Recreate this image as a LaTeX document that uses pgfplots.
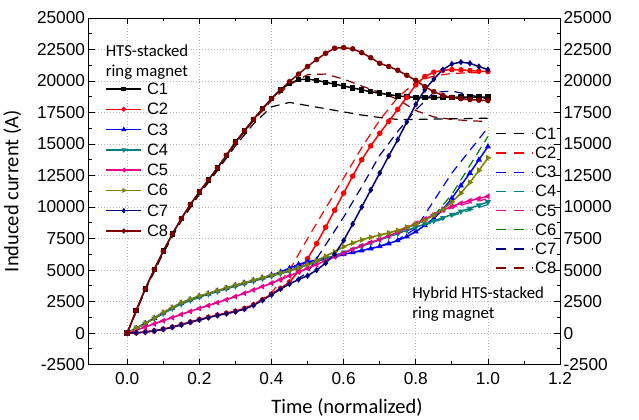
\documentclass[border=0pt]{standalone}
\usepackage{fontspec}
\setmainfont{Liberation Sans}
\newfontfamily\calfont{Carlito}
\usepackage{pgfplots}
\usepackage{pgfplotstable}
\pgfplotsset{compat=1.18}
\definecolor{cteal}{RGB}{0,128,128}
\definecolor{colive}{RGB}{128,128,0}
\definecolor{cnavy}{RGB}{0,0,128}
\definecolor{cmaroon}{RGB}{128,0,0}
\definecolor{cgreen}{RGB}{0,128,0}

\pgfplotstableread{
x C1 C2 C3 C4 C5 C6 C7 C8
0 0 0 0 0 0 0 0 0
0.025 1800 20 380 370 230 400 20 1800
0.05 3500 90 780 760 480 800 80 3500
0.075 5050 180 1180 1150 730 1200 170 5050
0.1 6500 320 1600 1550 980 1650 300 6500
0.125 7850 480 2000 1950 1230 2050 460 7850
0.15 9080 680 2370 2300 1480 2420 650 9080
0.175 10200 880 2650 2600 1720 2700 860 10200
0.2 11200 1080 2900 2850 1960 2950 1050 11200
0.225 12150 1260 3120 3080 2190 3150 1230 12150
0.25 13100 1430 3350 3300 2420 3380 1400 13100
0.275 14100 1580 3570 3520 2650 3600 1550 14100
0.3 15150 1740 3780 3720 2900 3800 1700 15150
0.325 16050 1950 3980 3920 3160 4000 1900 16050
0.35 16950 2250 4180 4120 3420 4200 2200 16950
0.375 17800 2650 4380 4320 3690 4400 2600 17800
0.4 18600 3100 4600 4520 3960 4580 3050 18600
0.425 19300 3550 4850 4720 4250 4780 3500 19300
0.45 19800 4050 5150 4920 4540 4980 3900 19950
0.475 20100 4900 5450 5150 4840 5200 4250 20550
0.5 20150 5900 5650 5400 5140 5450 4550 21150
0.525 20050 7100 5800 5650 5440 5750 5000 21700
0.55 19900 8400 5950 5900 5740 6100 5550 22200
0.575 19750 9750 6100 6150 6040 6450 6250 22600
0.6 19600 11100 6250 6400 6340 6850 7350 22650
0.625 19450 12450 6400 6650 6640 7150 8650 22550
0.65 19300 13750 6550 6900 6940 7400 10000 22250
0.675 19150 14850 6700 7150 7200 7600 11350 21850
0.7 19030 15850 6880 7400 7420 7780 12700 21400
0.725 18920 16800 7100 7650 7700 7950 14050 21150
0.75 18820 17750 7350 7900 8000 8150 15350 20850
0.775 18750 18700 7650 8150 8350 8400 16750 20450
0.8 18700 19700 8050 8400 8700 8650 18150 20050
0.825 18680 20350 8550 8650 9050 8950 19300 19550
0.85 18680 20700 9100 8900 9400 9350 20150 19150
0.875 18700 20850 9800 9150 9750 9800 20900 18850
0.9 18700 20900 10700 9400 10050 10400 21350 18700
0.925 18720 20880 11700 9650 10300 11100 21500 18600
0.95 18720 20830 12700 9900 10500 11950 21400 18530
0.975 18730 20780 13750 10150 10680 12900 21150 18480
1.0 18730 20750 14800 10400 10850 13900 20900 18450
}\solidtab

\pgfplotstableread{
x C1 C2 C3 C4 C5 C6 C7 C8
0 0 0 0 0 0 0 0 0
0.05 3400 90 780 760 480 800 80 3450
0.1 6350 320 1600 1550 980 1650 300 6450
0.15 8900 680 2370 2300 1480 2420 650 9000
0.2 11000 1080 2900 2850 1960 2950 1050 11150
0.25 12900 1430 3350 3300 2420 3380 1400 13050
0.3 14850 1730 3780 3720 2900 3800 1700 15050
0.35 16600 2250 4200 4120 3420 4200 2200 16850
0.4 17950 3200 4600 4520 3960 4580 3050 18450
0.45 18300 5000 5100 4920 4540 4950 3900 19700
0.5 18050 7500 5550 5400 5140 5450 4800 20500
0.55 17800 9900 5900 5900 5740 6100 7000 20550
0.6 17550 12300 6200 6400 6340 6850 9200 20150
0.65 17300 14700 6550 6900 6940 7400 11600 19600
0.7 17100 16900 6900 7400 7450 7780 14100 19100
0.75 16950 18700 7400 7900 8000 8150 16000 18550
0.8 16950 19900 8300 8350 8700 8600 17700 17650
0.85 16980 20400 10500 8800 9350 9300 19100 17150
0.9 17000 20600 12700 9300 9950 11000 19200 16950
0.95 17020 20650 14500 9750 10350 13300 18900 16850
1.0 17050 20650 16300 10200 10650 15600 18550 16780
}\dashtab

\pgfplotsset{
  common/.style={
    scale only axis, width=472pt, height=347pt,
    xmin=-0.107, xmax=1.2, ymin=-2500, ymax=25000,
    xtick={0,0.2,0.4,0.6,0.8,1.0,1.2},
    ytick={-2500,0,2500,5000,7500,10000,12500,15000,17500,20000,22500,25000},
    scaled y ticks=false,
    /pgf/number format/assume math mode=true,
    tick label style={font=\fontsize{17.3}{19}\selectfont},
    yticklabel style={/pgf/number format/1000 sep={}},
    xticklabel style={/pgf/number format/fixed, /pgf/number format/fixed zerofill, /pgf/number format/precision=1},
    major tick length=6pt, minor tick length=3.5pt,
    every tick/.style={black, line width=0.8pt},
    axis line style={line width=0.9pt},
    clip=true,
  },
}

\begin{document}
\begin{tikzpicture}
\begin{axis}[common,
  minor x tick num=1, minor y tick num=1,
  grid=major, major grid style={dash pattern=on 1pt off 2pt, black!28, line width=0.6pt},
  xticklabel style={yshift=-4pt},
  xlabel={Time (normalized)}, ylabel={Induced current (A)},
  every axis y label/.style={at={(axis description cs:-0.162,0.5)}, rotate=90, anchor=center, font=\calfont\fontsize{20.5}{24}\selectfont},
  every axis x label/.style={at={(axis description cs:0.548,-0.124)}, anchor=center, font=\calfont\fontsize{20.5}{24}\selectfont},
  every axis plot/.append style={line width=1.2pt, dash pattern=on 9pt off 6pt},
  legend style={at={(0.862,0.6816)}, anchor=north west, draw=none, fill=none,
    inner sep=0pt, outer sep=0pt, row sep=8.2pt, column sep=2pt,
    font=\fontsize{16.5}{16.5}\selectfont,
    nodes={inner sep=0pt, text height=11pt, text depth=0pt}},
  legend cell align=left,
  legend image code/.code={\draw[dash pattern=on 10pt off 8pt] plot coordinates {(0pt,0pt) (37pt,0pt)};},
]
\addplot[black, no markers] table[x=x,y=C1]{\dashtab}; \addlegendentry{C1}
\addplot[red, no markers] table[x=x,y=C2]{\dashtab}; \addlegendentry{C2}
\addplot[blue, no markers] table[x=x,y=C3]{\dashtab}; \addlegendentry{C3}
\addplot[cteal, no markers] table[x=x,y=C4]{\dashtab}; \addlegendentry{C4}
\addplot[magenta, no markers] table[x=x,y=C5]{\dashtab}; \addlegendentry{C5}
\addplot[cgreen, no markers] table[x=x,y=C6]{\dashtab}; \addlegendentry{C6}
\addplot[cnavy, no markers] table[x=x,y=C7]{\dashtab}; \addlegendentry{C7}
\addplot[cmaroon, no markers] table[x=x,y=C8]{\dashtab}; \addlegendentry{C8}
\end{axis}

\begin{axis}[common,
  hide x axis, axis y line*=right, y axis line style={draw=none},
  major tick length=0pt, minor tick length=0pt,
  every axis plot/.append style={line width=1.5pt, mark size=2pt, solid},
  legend style={at={(0.036,0.811)}, anchor=north west, draw=none, fill=none,
    inner sep=0pt, outer sep=0pt, row sep=9.3pt, column sep=5pt,
    font=\fontsize{16.5}{16.5}\selectfont,
    nodes={inner sep=0pt, text height=11pt, text depth=0pt}},
  legend cell align=left,
  legend image code/.code={\draw[mark repeat=2,mark phase=2, mark size=1.6pt] plot coordinates {(0pt,0pt) (17.5pt,0pt) (35pt,0pt)};},
]
\addplot[black, mark=square*] table[x=x,y=C1]{\solidtab}; \addlegendentry{C1}
\addplot[red, mark=*] table[x=x,y=C2]{\solidtab}; \addlegendentry{C2}
\addplot[blue, mark=triangle*] table[x=x,y=C3]{\solidtab}; \addlegendentry{C3}
\addplot[cteal, mark=triangle*, every mark/.append style={rotate=180}] table[x=x,y=C4]{\solidtab}; \addlegendentry{C4}
\addplot[magenta, mark=triangle*, every mark/.append style={rotate=90}] table[x=x,y=C5]{\solidtab}; \addlegendentry{C5}
\addplot[colive, mark=triangle*, every mark/.append style={rotate=-90}] table[x=x,y=C6]{\solidtab}; \addlegendentry{C6}
\addplot[cnavy, mark=diamond*] table[x=x,y=C7]{\solidtab}; \addlegendentry{C7}
\addplot[cmaroon, mark=*] table[x=x,y=C8]{\solidtab}; \addlegendentry{C8}
\node[anchor=north west, align=left, inner sep=0pt, font=\calfont\fontsize{16.8}{20}\selectfont]
  at (rel axis cs:0.036,0.922) {HTS-stacked\\ring magnet};
\node[anchor=north west, align=left, inner sep=0pt, font=\calfont\fontsize{16.8}{20}\selectfont]
  at (rel axis cs:0.686,0.225) {Hybrid HTS-stacked\\ring magnet};
\end{axis}
\path (-88pt,-55pt) rectangle (551pt,365pt);
\end{tikzpicture}
\end{document}
